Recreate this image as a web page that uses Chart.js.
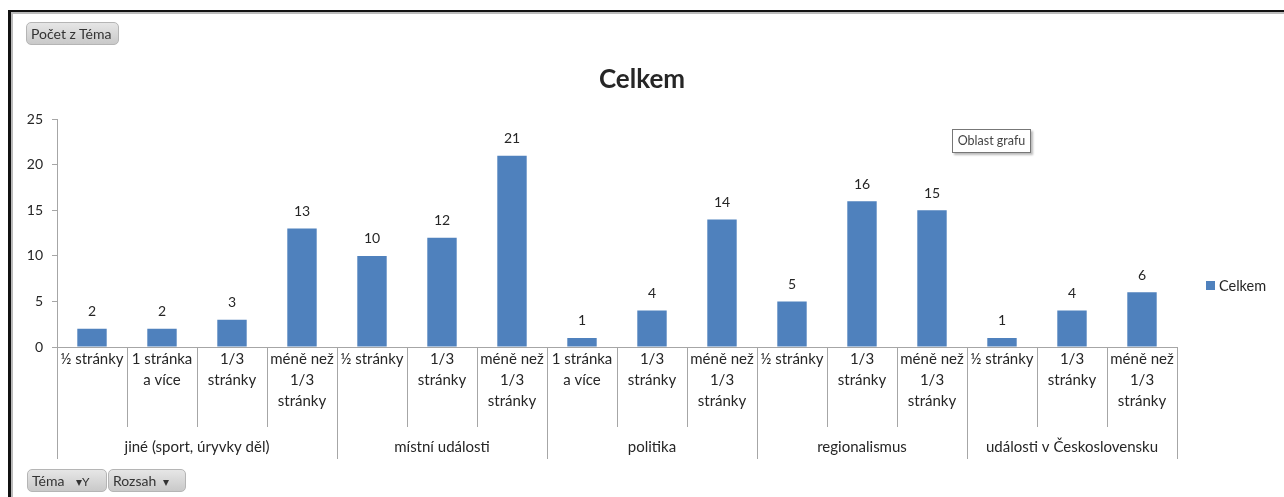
<!DOCTYPE html>
<html>

<head>
  <title>Celkem</title>
  <script src="https://cdn.jsdelivr.net/npm/chart.js@4.4.1/dist/chart.umd.min.js"></script>

  <style>
    body {
      margin: 0;
      background-color: white;
      font-family: Lato, "Noto Sans", sans-serif;
    }

    #wrap {
      position: relative;
      width: 1284px;
      height: 497px;
      overflow: hidden;
    }

    #frame {
      position: absolute;
      left: 8px;
      top: 10px;
      width: 1290px;
      height: 500px;
      border-top: 2px solid #111;
      border-left: 3px solid #111;
      box-shadow: inset 2px 2px 0 #bbb;
    }

    canvas {
      position: absolute;
      left: 0;
      top: 0;
    }

    .btn {
      position: absolute;
      height: 23px;
      line-height: 21px;
      font-size: 14px;
      color: #333;
      background: linear-gradient(#e6e6e6, #c9c9c9);
      border: 1px solid #b5b5b5;
      border-radius: 5px;
      padding: 0 4px;
      box-sizing: border-box;
      white-space: nowrap;
    }

    .tip {
      position: absolute;
      left: 952px;
      top: 129px;
      width: 79px;
      height: 24px;
      line-height: 22px;
      font-size: 12.5px;
      color: #444;
      background: white;
      border: 1px solid #777;
      box-shadow: 2px 2px 2px #bbb;
      box-sizing: border-box;
      text-align: center;
    }
  </style>
</head>

<body>
  <div id="wrap">
    <div id="frame"></div>
    <canvas id="themeChart" width="1284" height="497"></canvas>
    <div class="btn" style="left:26px;top:22px;width:93px;">Počet z Téma</div>
    <div class="tip">Oblast grafu</div>
    <div class="btn" style="left:27px;top:469px;width:80px;">Téma <span style="margin-left:8px;font-size:12px">▾Y</span></div>
    <div class="btn" style="left:108px;top:469px;width:78px;">Rozsah <span style="margin-left:3px;font-size:12px">▾</span></div>
  </div>

  <script>
    // skupiny a jejich počty kategorií
    const groups = ['jiné (sport, úryvky děl)', 'místní události', 'politika', 'regionalismus', 'události v Československu'];
    const groupSizes = [4, 3, 3, 3, 3];

    const categories = [
      ['½ stránky'], ['1 stránka', 'a více'], ['1/3', 'stránky'], ['méně než', '1/3', 'stránky'],
      ['½ stránky'], ['1/3', 'stránky'], ['méně než', '1/3', 'stránky'],
      ['1 stránka', 'a více'], ['1/3', 'stránky'], ['méně než', '1/3', 'stránky'],
      ['½ stránky'], ['1/3', 'stránky'], ['méně než', '1/3', 'stránky'],
      ['½ stránky'], ['1/3', 'stránky'], ['méně než', '1/3', 'stránky']
    ];
    const values = [2, 2, 3, 13, 10, 12, 21, 1, 4, 14, 5, 16, 15, 1, 4, 6];

    const yMin = 0;
    const yMax = 25;
    const yStep = 5;

    const barColor = '#4f81bd';
    const textColor = '#262626';
    const lineColor = '#a6a6a6';
    const fontFamily = 'Lato, "Noto Sans", sans-serif';

    // popisky hodnot nad sloupci
    const valueLabels = {
      id: 'valueLabels',
      afterDatasetsDraw(chart) {
        const ctx = chart.ctx;
        const meta = chart.getDatasetMeta(0);
        ctx.save();
        ctx.font = '14px ' + fontFamily;
        ctx.fillStyle = textColor;
        ctx.textAlign = 'center';
        ctx.textBaseline = 'middle';
        meta.data.forEach((bar, i) => {
          ctx.fillText(values[i], bar.x, bar.y - 17);
        });
        ctx.restore();
      }
    };

    // oddělovače a názvy skupin pod osou x
    const groupAxis = {
      id: 'groupAxis',
      afterDraw(chart) {
        const ctx = chart.ctx;
        const x = chart.scales.x;
        const top = x.top;
        const half = (x.getPixelForTick(1) - x.getPixelForTick(0)) / 2;
        ctx.save();
        ctx.strokeStyle = lineColor;
        ctx.lineWidth = 1;
        const groupEdges = [0];
        groupSizes.reduce((acc, n) => { groupEdges.push(acc + n); return acc + n; }, 0);
        for (let i = 0; i <= categories.length; i++) {
          const px = Math.round(x.getPixelForTick(Math.min(i, categories.length - 1)) + (i === categories.length ? half : -half)) + 0.5;
          const len = groupEdges.includes(i) ? 112 : 80;
          ctx.beginPath();
          ctx.moveTo(px, top);
          ctx.lineTo(px, top + len);
          ctx.stroke();
        }
        ctx.font = '15px ' + fontFamily;
        ctx.fillStyle = textColor;
        ctx.textAlign = 'center';
        ctx.textBaseline = 'middle';
        for (let g = 0; g < groups.length; g++) {
          const a = x.getPixelForTick(groupEdges[g]) - half;
          const b = x.getPixelForTick(groupEdges[g + 1] - 1) + half;
          ctx.fillText(groups[g], (a + b) / 2, top + 100);
        }
        ctx.restore();
      }
    };

    // legenda vpravo
    const sideLegend = {
      id: 'sideLegend',
      afterDraw(chart) {
        const ctx = chart.ctx;
        const area = chart.chartArea;
        const y = area.bottom - 61;
        ctx.save();
        ctx.fillStyle = barColor;
        ctx.fillRect(area.right + 29, y - 5, 9, 9);
        ctx.font = '14.5px ' + fontFamily;
        ctx.fillStyle = textColor;
        ctx.textBaseline = 'middle';
        ctx.fillText('Celkem', area.right + 42, y);
        ctx.restore();
      }
    };

    const ctx = document.getElementById('themeChart').getContext('2d');
    new Chart(ctx, {
      type: 'bar',
      data: {
        labels: categories,
        datasets: [{
          label: 'Celkem',
          data: values,
          backgroundColor: barColor,
          categoryPercentage: 1,
          barPercentage: 0.42
        }]
      },
      options: {
        responsive: false,
        animation: false,
        layout: {
          padding: { top: 50, right: 0, bottom: 35, left: 0 }
        },
        plugins: {
          legend: { display: false },
          tooltip: { enabled: false },
          title: {
            display: true,
            text: 'Celkem',
            color: textColor,
            font: { family: fontFamily, size: 26, weight: 'bold' },
            padding: { top: 14, bottom: 24 }
          }
        },
        scales: {
          x: {
            offset: true,
            grid: { display: false, drawTicks: false, tickLength: 0 },
            border: { color: lineColor },
            ticks: {
              autoSkip: false,
              maxRotation: 0,
              padding: 2,
              color: textColor,
              font: { family: fontFamily, size: 15, lineHeight: 1.4 }
            },
            afterFit(scale) { scale.height = 115; }
          },
          y: {
            min: yMin,
            max: yMax,
            ticks: {
              stepSize: yStep,
              padding: 9,
              color: textColor,
              font: { family: fontFamily, size: 14 }
            },
            grid: { drawOnChartArea: false, tickLength: 5, color: lineColor },
            border: { color: lineColor },
            afterFit(scale) { scale.width = 57; }
          },
          // prázdné místo vpravo pro legendu
          side: {
            type: 'linear',
            position: 'right',
            display: true,
            grid: { display: false },
            border: { display: false },
            ticks: { display: false },
            afterFit(scale) { scale.width = 107; }
          }
        }
      },
      plugins: [valueLabels, groupAxis, sideLegend]
    });
  </script>
</body>

</html>
